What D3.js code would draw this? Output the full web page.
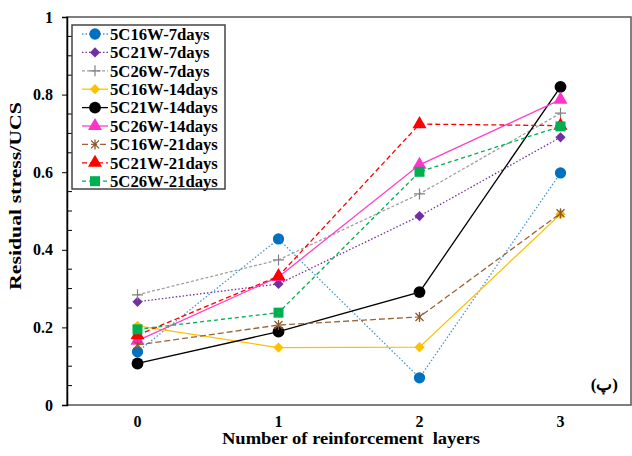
<!DOCTYPE html>
<html>
  <head>
    <meta charset="UTF-8" />
    <title>Residual stress/UCS</title>
    <script src="https://d3js.org/d3.v7.min.js"></script>
    <style>
      body { margin: 0; background: #fff; }
      svg text { font-family: "Liberation Serif", "Times New Roman", serif; font-weight: bold; }
    </style>
  </head>
  <body>
    <div id="chart"></div>
    <script>
      // ---------- data ----------
      const layers = [0, 1, 2, 3];
      const yTicks = [0, 0.2, 0.4, 0.6, 0.8, 1];
      const names = [
        "5C16W-7days", "5C21W-7days", "5C26W-7days",
        "5C16W-14days", "5C21W-14days", "5C26W-14days",
        "5C16W-21days", "5C21W-21days", "5C26W-21days",
      ];
      const s16w7 = [0.137, 0.428, 0.070, 0.598];
      const s21w7 = [0.266, 0.312, 0.487, 0.690];
      const s26w7 = [0.284, 0.374, 0.544, 0.752];
      const s16w14 = [0.204, 0.148, 0.149, 0.492];
      const s21w14 = [0.107, 0.189, 0.291, 0.820];
      const s26w14 = [0.166, 0.330, 0.619, 0.787];
      const s16w21 = [0.155, 0.206, 0.227, 0.494];
      const s21w21 = [0.180, 0.332, 0.724, 0.720];
      const s26w21 = [0.195, 0.238, 0.601, 0.718];
      const values = [s16w7, s21w7, s26w7, s16w14, s21w14, s26w14, s16w21, s21w21, s26w21];

      // styles per series
      const styles = [
        { line: "#4a93d4", fill: "#0070c0", dash: "1.5,2", sym: d3.symbolCircle, size: 100 },
        { line: "#7030a0", fill: "#7030a0", dash: "1.5,2", sym: "diamond", size: 52 },
        { line: "#a0a0a0", fill: "none", stroke: "#808080", dash: "3,2", sym: "plus" },
        { line: "#ffc000", fill: "#ffc000", dash: null, sym: "diamond", size: 52 },
        { line: "#000000", fill: "#000000", dash: null, sym: d3.symbolCircle, size: 110 },
        { line: "#ff40cc", fill: "#ff33cc", dash: null, sym: d3.symbolTriangle, size: 85 },
        { line: "#996633", fill: "none", stroke: "#8b5a2b", dash: "6,3", sym: "star" },
        { line: "#ff0000", fill: "#ff0000", dash: "5,3", sym: d3.symbolTriangle, size: 85 },
        { line: "#00b050", fill: "#00b050", dash: "4,3", sym: d3.symbolSquare, size: 100 },
      ];

      const width = 632, height = 456;
      const margin = { top: 17, right: 1, bottom: 51, left: 67 };

      const svg = d3.select("#chart").append("svg")
        .attr("width", width).attr("height", height);

      const x = d3.scalePoint().domain(layers)
        .range([margin.left, width - margin.right]).padding(0.5);
      const y = d3.scaleLinear().domain([0, 1])
        .range([height - margin.bottom, margin.top]);

      // frame
      svg.append("rect")
        .attr("x", margin.left).attr("y", margin.top)
        .attr("width", width - margin.right - margin.left)
        .attr("height", height - margin.bottom - margin.top)
        .attr("fill", "none").attr("stroke", "#555").attr("stroke-width", 1.5);

      // y axis: major ticks outside, minor inside
      const yAxis = svg.append("g").attr("transform", `translate(${margin.left},0)`);
      yAxis.call(d3.axisLeft(y).tickValues(yTicks).tickSize(5).tickPadding(9)
        .tickFormat(d3.format("")));
      yAxis.select(".domain").attr("stroke", "#000").attr("stroke-width", 1.5);
      yAxis.selectAll("text").attr("font-size", 16).attr("fill", "#000");
      const minor = d3.range(0.05, 1, 0.1).concat(d3.range(0.1, 1, 0.2));
      yAxis.selectAll(".minor").data(minor).enter().append("line")
        .attr("class", "minor")
        .attr("x1", 0).attr("x2", 5)
        .attr("y1", (d) => y(d)).attr("y2", (d) => y(d))
        .attr("stroke", "#000");

      // x tick labels
      svg.append("g").selectAll("text").data(layers).enter().append("text")
        .attr("x", (d) => x(d)).attr("y", 427)
        .attr("text-anchor", "middle").attr("font-size", 16)
        .text((d) => d);

      // axis titles (the source figure is stretched along the text)
      svg.append("text")
        .attr("x", 222).attr("y", 443.5)
        .attr("font-size", 16)
        .attr("xml:space", "preserve")
        .attr("textLength", 258).attr("lengthAdjust", "spacingAndGlyphs")
        .text("Number of reinforcement  layers");
      svg.append("text")
        .attr("transform", "translate(21,290) rotate(-90)")
        .attr("font-size", 16)
        .attr("textLength", 188).attr("lengthAdjust", "spacingAndGlyphs")
        .text("Residual stress/UCS");

      svg.append("text")
        .attr("x", 618).attr("y", 390)
        .attr("text-anchor", "end").attr("font-size", 17)
        .text("(پ)");

      // markers
      function marker(g, st) {
        if (st.sym === "plus") {
          g.append("path").attr("d", "M-5.5,0H5.5M0,-5.5V5.5")
            .attr("stroke", st.stroke).attr("stroke-width", 1.2).attr("fill", "none");
        } else if (st.sym === "star") {
          g.append("path").attr("d", "M-4,-4L4,4M-4,4L4,-4M0,-5V5")
            .attr("stroke", st.stroke).attr("stroke-width", 1.3).attr("fill", "none");
        } else if (st.sym === "diamond") {
          g.append("path").attr("d", d3.symbol(d3.symbolSquare, st.size)())
            .attr("transform", "rotate(45)")
            .attr("fill", st.fill);
        } else {
          g.append("path").attr("d", d3.symbol(st.sym, st.size)())
            .attr("fill", st.fill);
        }
      }

      const line = d3.line().x((d, i) => x(layers[i])).y((d) => y(d));

      values.forEach((vals, k) => {
        const st = styles[k];
        const g = svg.append("g");
        g.append("path").attr("d", line(vals))
          .attr("fill", "none").attr("stroke", st.line).attr("stroke-width", 1.3)
          .attr("stroke-dasharray", st.dash);
        vals.forEach((v, i) => {
          const m = g.append("g").attr("transform", `translate(${x(layers[i])},${y(v)})`);
          marker(m, st);
        });
      });

      // legend
      const lg = svg.append("g");
      lg.append("rect")
        .attr("x", 72).attr("y", 25).attr("width", 153).attr("height", 164)
        .attr("fill", "#fff").attr("stroke", "#444").attr("stroke-width", 1.5);
      names.forEach((n, k) => {
        const st = styles[k];
        const cy = 34 + k * 18.4;
        lg.append("line").attr("x1", 82).attr("x2", 108).attr("y1", cy).attr("y2", cy)
          .attr("stroke", st.line).attr("stroke-width", 1.3)
          .attr("stroke-dasharray", st.dash);
        const m = lg.append("g").attr("transform", `translate(95,${cy})`);
        marker(m, st);
        lg.append("text").attr("x", 110).attr("y", cy + 5.8)
          .attr("font-size", 16.7).text(n);
      });
    </script>
  </body>
</html>
